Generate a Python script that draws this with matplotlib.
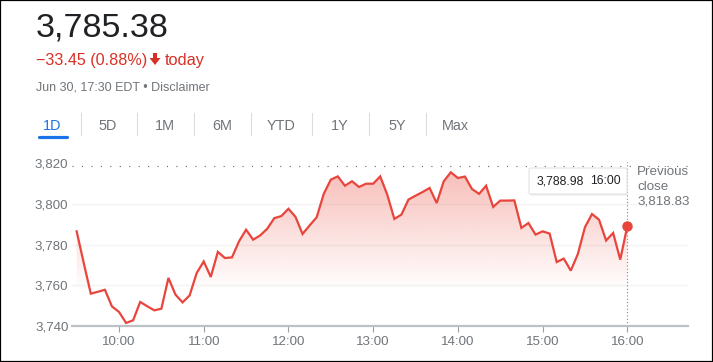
import numpy as np
import matplotlib
matplotlib.use("Agg")
import matplotlib.pyplot as plt
from matplotlib.patches import Polygon, Rectangle, FancyBboxPatch
from matplotlib.lines import Line2D

plt.rcParams['font.family'] = ['Liberation Sans', 'DejaVu Sans']

# Index values, one every 5 minutes from 9:30 to 16:00
times = list(range(9 * 60 + 30, 16 * 60 + 1, 5))
values = [
    3786.5, 3771.0, 3755.9, 3756.8, 3757.8, 3749.6, 3746.9, 3741.5, 3742.8, 3751.8,
    3749.7, 3747.7, 3748.5, 3763.6, 3755.4, 3751.6, 3755.0, 3766.0, 3771.7, 3764.1,
    3776.4, 3773.4, 3773.7, 3781.6, 3787.3, 3782.4, 3784.5, 3787.8, 3793.0, 3794.0,
    3797.6, 3793.6, 3785.2, 3789.4, 3793.4, 3804.9, 3811.9, 3813.5, 3808.9, 3811.1,
    3808.3, 3809.9, 3809.9, 3813.5, 3804.5, 3792.6, 3794.7, 3802.1, 3804.0, 3805.8,
    3807.8, 3800.4, 3811.1, 3815.5, 3812.7, 3813.4, 3807.3, 3804.9, 3808.9, 3798.5,
    3801.6, 3801.6, 3801.7, 3788.2, 3790.6, 3784.9, 3786.5, 3785.4, 3771.4, 3773.1,
    3767.2, 3775.4, 3788.5, 3795.0, 3792.2, 3782.0, 3785.7, 3772.6, 3788.98,
]
prev_close = 3818.83
y_ticks = [3740, 3760, 3780, 3800, 3820]
x_ticks = [600, 660, 720, 780, 840, 900, 960]
x_labels = ["10:00", "11:00", "12:00", "13:00", "14:00", "15:00", "16:00"]
tabs = ["1D", "5D", "1M", "6M", "YTD", "1Y", "5Y", "Max"]

W, H = 713, 362
RED_LINE = '#e8453c'
RED_TEXT = '#d93025'
GRAY = '#70757a'


def fx(x):
    return x / W


def fy(y):
    return 1 - y / H


fig = plt.figure(figsize=(W / 100, H / 100), dpi=100)
fig.patch.set_facecolor('white')

# frame around the screenshot
fig.patches.append(Rectangle((0, 0), 1, 1, transform=fig.transFigure, fill=False,
                             edgecolor='black', linewidth=1.6))

# header
fig.text(fx(35.5), fy(36.7), "3,785.38", fontsize=24.6, color='#202124', va='baseline')
fig.text(fx(36), fy(65), "\u221233.45 (0.88%)", fontsize=11.6, color=RED_TEXT, va='baseline')
# down arrow drawn as a filled shape
arrow = [(153, 53), (157, 53), (157, 58), (160.5, 58), (155, 65), (149.5, 58), (153, 58)]
fig.patches.append(Polygon([(fx(a), fy(b)) for a, b in arrow], closed=True,
                           transform=fig.transFigure, facecolor=RED_TEXT, edgecolor='none'))
fig.text(fx(165), fy(65), "today", fontsize=11.8, color=RED_TEXT, va='baseline')
fig.text(fx(36), fy(90), "Jun 30, 17:30 EDT \u2022 Disclaimer", fontsize=9, color=GRAY,
         va='baseline')

# period tabs
tab_x = [52, 108, 165, 222, 281, 340, 397, 455]
for name, x in zip(tabs, tab_x):
    fig.text(fx(x), fy(129.5), name, fontsize=10.4, ha='center', va='baseline',
             color='#1a73e8' if name == "1D" else GRAY)
for x in [81, 137, 194, 251, 312, 369, 426]:
    fig.lines.append(Line2D([fx(x), fx(x)], [fy(113), fy(135)], transform=fig.transFigure,
                            color='#dadce0', linewidth=0.8))
fig.lines.append(Line2D([fx(38.5), fx(66.5)], [fy(137), fy(137)], transform=fig.transFigure,
                        color='#1a73e8', linewidth=2.3, solid_capstyle='round'))

# chart
ax = fig.add_axes([fx(72), fy(326), (688 - 72) / W, (326 - 160.7) / H])
x0, x1 = 566.7, 1003.0
y0, y1 = 3740, 3821.2
ax.set_xlim(x0, x1)
ax.set_ylim(y0, y1)

# gradient fill under the line
rgb = np.array([234, 67, 53]) / 255
ys = np.linspace(y1, y0, 300)
alpha = np.clip(0.31 * (ys - 3757) / (3810 - 3757), 0, 1)
grad = np.zeros((300, 1, 4))
grad[:, 0, :3] = rgb
grad[:, 0, 3] = alpha
im = ax.imshow(grad, extent=[x0, x1, y0, y1], aspect='auto', origin='upper', zorder=1)
poly = Polygon([(times[0], y0)] + list(zip(times, values)) + [(times[-1], y0)],
               closed=True, facecolor='none', edgecolor='none')
ax.add_patch(poly)
im.set_clip_path(poly)

for yv in [3760, 3780, 3800]:
    ax.axhline(yv, color='#f3f3f3', linewidth=1, zorder=0.5)
ax.axhline(prev_close, color='#5f6368', linewidth=0.8, linestyle=(0, (1, 7.5)), zorder=2)
ax.plot([times[-1], times[-1]], [y0, 3820.5], color='#80868b', linewidth=0.8,
        linestyle=(0, (1, 2)), zorder=2)

ax.plot(times, values, color=RED_LINE, linewidth=1.6, zorder=3, solid_joinstyle='miter')
ax.plot([times[-1]], [values[-1]], 'o', color=RED_LINE, markersize=6.5, zorder=4)

ax.set_yticks(y_ticks)
ax.set_yticklabels([f"{v:,}" for v in y_ticks])
ax.set_xticks(x_ticks)
ax.set_xticklabels(x_labels)
ax.tick_params(axis='y', length=0, pad=2.6, labelsize=9.6, labelcolor=GRAY)
ax.tick_params(axis='x', length=4.5, width=0.8, color='#9aa0a6', pad=2.5,
               labelsize=9.6, labelcolor=GRAY, direction='out')
for side in ['top', 'right', 'left']:
    ax.spines[side].set_visible(False)
ax.spines['bottom'].set_color('#bdc1c6')
ax.spines['bottom'].set_linewidth(1.6)
ax.set_facecolor('none')

# tooltip
shadow = FancyBboxPatch((fx(529.5), fy(195.5)), fx(98), 26 / H,
                        boxstyle='round,pad=0,rounding_size=0.003',
                        transform=fig.transFigure, facecolor='#ececec', edgecolor='none', zorder=5)
box = FancyBboxPatch((fx(529), fy(194)), fx(98), 26 / H, boxstyle='round,pad=0,rounding_size=0.003',
                     transform=fig.transFigure, facecolor='white', edgecolor='#e0e0e0',
                     linewidth=0.7, zorder=6)
fig.patches.extend([shadow, box])
fig.text(fx(536.5), fy(181), f"{values[-1]:,.2f}", fontsize=8.8, color='#202124',
         va='center', zorder=7)
fig.text(fx(590.5), fy(181), "16:00", fontsize=8.8, color='#202124', va='center', zorder=7)

# previous close note
fig.text(fx(637), fy(171.7), "Previous", fontsize=9.6, color=GRAY, va='center')
fig.text(fx(637), fy(186.7), "close", fontsize=9.6, color=GRAY, va='center')
fig.text(fx(637), fy(201.7), f"{prev_close:,.2f}", fontsize=9.6, color=GRAY, va='center')

fig.savefig('out.png', dpi=100)
